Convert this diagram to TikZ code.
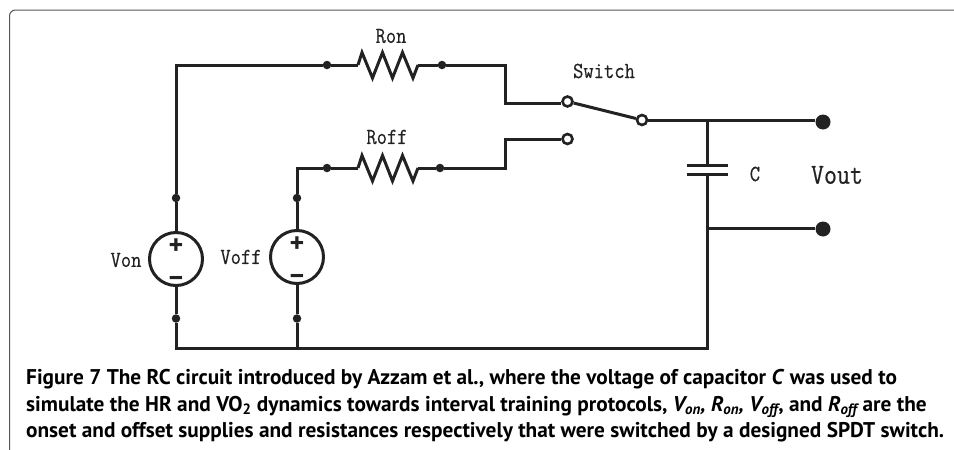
\documentclass[tikz,border=0pt]{standalone}
\usepackage{fontspec}
\setmainfont{PT Sans}
\newfontfamily\labelfont[FakeStretch=0.87,FakeBold=0.4]{Latin Modern Mono}
\definecolor{ink}{HTML}{222222}
\definecolor{framegray}{HTML}{555555}
\tikzset{
    wire/.style={line width=3pt, color=ink},
    pad/.style={circle, fill=ink, inner sep=0pt, minimum size=8.5pt},
    terminal/.style={circle, fill=ink, inner sep=0pt, minimum size=15pt},
    contact/.style={circle, draw=ink, fill=white, line width=2.6pt, inner sep=0pt, minimum size=10pt},
    source/.style={circle, draw=ink, line width=3pt, inner sep=0pt, minimum size=53pt},
    label/.style={font=\labelfont\fontsize{23}{23}\selectfont, text=ink},
    polarity/.style={font=\bfseries\fontsize{28}{28}\selectfont, text=ink, inner sep=0pt},
    caption/.style={anchor=north west, align=left, inner sep=0pt, text=black, font=\bfseries\fontsize{21.3}{26.5}\selectfont}
}
\begin{document}
\begin{tikzpicture}[x=1pt, y=-1pt]
    \useasboundingbox (0,0) rectangle (954,450);

    % Draw Frame
    \draw[framegray, line width=1pt, rounded corners=6pt] (9.5,450) -- (9.5,10) -- (954,10);

    % Define points
    \coordinate (VonTop) at (176,65);
    \coordinate (VonBot) at (176,348);
    \coordinate (VoffTop) at (297,168);
    \coordinate (VoffBot) at (297,348);
    \coordinate (RonL) at (358,65);
    \coordinate (RonR) at (418,65);
    \coordinate (RoffL) at (358,168);
    \coordinate (RoffR) at (418,168);
    \coordinate (OnA) at (505,65);
    \coordinate (OnB) at (505,103);
    \coordinate (OffA) at (505,168);
    \coordinate (OffB) at (505,139);
    \coordinate (CapTop) at (707,120);
    \coordinate (CapUp) at (707,165);
    \coordinate (CapDown) at (707,174.5);
    \coordinate (CapOut) at (707,228);
    \coordinate (CapBot) at (707,348);

    % Sources
    \node[source] (Von) at (176,259) {};
    \node[source] (Voff) at (297,257) {};
    \node[polarity] (VonPlus) at (176,247) {+};
    \node[polarity] (VonMinus) at (176,282) {\textminus};
    \node[polarity] (VoffPlus) at (297,245) {+};
    \node[polarity] (VoffMinus) at (297,280) {\textminus};

    % Pads and contacts
    \node[pad] (P1) at (327,65) {};
    \node[pad] (P2) at (442,65) {};
    \node[pad] (P3) at (327,168) {};
    \node[pad] (P4) at (440,168) {};
    \node[pad] (P5) at (176,198) {};
    \node[pad] (P6) at (297,198) {};
    \node[pad] (P7) at (176,318.5) {};
    \node[pad] (P8) at (297,318.5) {};
    \node[contact] (SwOn) at (567.5,101.5) {};
    \node[contact] (SwOff) at (567.5,139) {};
    \node[contact] (SwCom) at (642,120) {};
    \node[terminal] (OutA) at (823,122) {};
    \node[terminal] (OutB) at (823,229) {};

    % Draw Wires
    \draw[wire] (Von) -- (P5) -- (VonTop) -- (P1) -- (RonL);
    \draw[wire] (RonR) -- (P2) -- (OnA) -- (OnB) -- (OnB -| SwOn.west);
    \draw[wire] (Voff) -- (P6) -- (VoffTop) -- (P3) -- (RoffL);
    \draw[wire] (RoffR) -- (P4) -- (OffA) -- (OffB) -- (SwOff);
    \draw[wire] (Von) -- (P7) -- (VonBot) -- (CapBot) -- (CapDown);
    \draw[wire] (Voff) -- (P8) -- (VoffBot);
    \draw[wire] (SwOn) -- (SwCom);
    \draw[wire] (SwCom) -- (CapTop) -- (OutA.west |- CapTop);
    \draw[wire] (CapTop) -- (CapUp);
    \draw[wire] (CapOut) -- (OutB.west |- CapOut);

    % Draw Resistors
    \draw[wire, line join=miter] (RonL) -- ++(4,-12.5) -- ++(10.5,25.5) -- ++(10,-25.5) -- ++(10,25.5) -- ++(10,-25.5) -- ++(10.5,25.5) -- (RonR);
    \draw[wire, line join=miter] (RoffL) -- ++(4,-12.5) -- ++(10.5,25.5) -- ++(10,-25.5) -- ++(10,25.5) -- ++(10,-25.5) -- ++(10.5,25.5) -- (RoffR);

    % Draw Capacitor
    \draw[wire] ([xshift=-20.5pt]CapUp) -- ([xshift=20.5pt]CapUp);
    \draw[wire] ([xshift=-20.5pt]CapDown) -- ([xshift=20.5pt]CapDown);

    % Labels
    \node[label] (RonLabel) at (391,36) {Ron};
    \node[label] (RoffLabel) at (387,137) {Roff};
    \node[label] (SwitchLabel) at (604,71) {Switch};
    \node[label] (CLabel) at (755,174) {C};
    \node[label, font=\labelfont\fontsize{29}{29}\selectfont] (VoutLabel) at (837,175) {Vout};
    \node[label] (VonLabel) at (126,260) {Von};
    \node[label] (VoffLabel) at (241,257) {Voff};

    % Caption
    \node[caption] (Caption) at (26,369.5) {Figure 7 The RC circuit introduced by Azzam et al., where the voltage of capacitor \textit{C} was used to\\
    simulate the HR and VO\textsubscript{2} dynamics towards interval training protocols, \textit{V\textsubscript{on}, R\textsubscript{on}, V\textsubscript{off}}, and \textit{R\textsubscript{off}} are the\\
    onset and offset supplies and resistances respectively that were switched by a designed SPDT switch.};
\end{tikzpicture}
\end{document}
